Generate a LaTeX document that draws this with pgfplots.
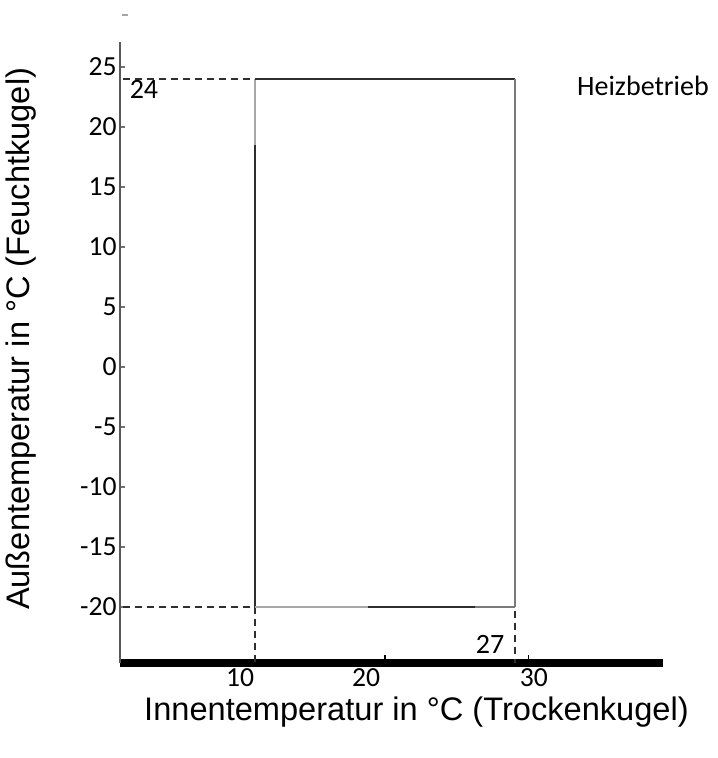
\documentclass[border=0pt]{standalone}
\usepackage{fontspec}
\setmainfont{Liberation Sans}
\newfontfamily\calibri{Carlito}
\usepackage{pgfplots}
\pgfplotsset{compat=1.18}
\definecolor{edge}{HTML}{2E2E2E}
\definecolor{edgegray}{HTML}{7A7A7A}
\definecolor{edgelight}{HTML}{A8A8A8}
\begin{document}
\begin{tikzpicture}
\useasboundingbox (-60pt,-47.5pt) rectangle (298.5pt,331.5pt);
\begin{axis}[
  at={(0,0)}, anchor=south west,
  scale only axis, width=271.5pt, height=310.5pt,
  xmin=1.173, xmax=36.68, ymin=-24.667, ymax=27.083,
  clip=false,
  axis x line=bottom, axis y line=left,
  x axis line style={-, line width=3.5pt, black},
  y axis line style={-, line width=1pt, black!65},
  tick align=inside,
  major tick length=2.5pt,
  ytick={-20,-15,-10,-5,0,5,10,15,20,25},
  yticklabels={-20,-15,-10,-5,0,5,10,15,20,25},
  ytick style={draw=black!55, line width=0.7pt},
  yticklabel style={font=\calibri\fontsize{13.8}{15}\selectfont, inner sep=0pt, anchor=east, xshift=-1.5pt},
  xtick={9.03,17.26,28.24},
  xticklabels={10,20,30},
  xtick style={draw=none},
  xticklabel style={font=\calibri\fontsize{13.8}{15}\selectfont, inner sep=0pt, anchor=north, yshift=-2.75pt},
  extra x ticks={18.5,27.9},
  extra x tick style={xtick style={draw=black, line width=0.7pt}, major tick length=4pt, xticklabel={}},
  xlabel={Innentemperatur in °C (Trockenkugel)},
  xlabel style={at={(axis description cs:0.546,-0.0790)}, anchor=center, font=\fontsize{16.3}{19}\selectfont},
  ylabel={Außentemperatur in °C (Feuchtkugel)},
  ylabel style={at={(axis description cs:-0.182,0.522)}, anchor=center, font=\fontsize{16.3}{19}\selectfont},
]
% dashed guide lines
\addplot[edge, line width=0.7pt, dash pattern=on 3.5pt off 2.5pt] coordinates {(1.37,24) (10,24)};
\addplot[edge, line width=0.7pt, dash pattern=on 3.5pt off 2.5pt] coordinates {(1.37,-20) (10,-20)};
\addplot[edge, line width=0.7pt, dash pattern=on 3.5pt off 2.5pt] coordinates {(10,-20) (10,-24.667)};
\addplot[edge, line width=0.7pt, dash pattern=on 3.5pt off 2.5pt] coordinates {(27,-20.3) (27,-24.667)};
% operating range rectangle
\addplot[edgelight, line width=0.75pt] coordinates {(10,24) (10,18.5)};
\addplot[edge, line width=0.75pt] coordinates {(10,18.5) (10,-20)};
\addplot[edge, line width=0.75pt] coordinates {(10,24) (27,24)};
\addplot[edgegray, line width=0.75pt] coordinates {(27,24) (27,-20)};
\addplot[edgelight, line width=0.75pt] coordinates {(10,-20) (17.4,-20)};
\addplot[edge, line width=0.75pt] coordinates {(17.4,-20) (24.4,-20)};
\addplot[edgegray, line width=0.75pt] coordinates {(24.4,-20) (27,-20)};
% stray mark at top of axis
\addplot[black!35, line width=1pt] coordinates {(1.3,29.3) (1.7,29.3)};
% annotations
\node[font=\calibri\fontsize{14}{16}\selectfont, inner sep=0pt] at (axis cs:2.74,23.125) {24};
\node[font=\calibri\fontsize{14}{16}\selectfont, inner sep=0pt] at (axis cs:25.37,-23.08) {27};
\node[font=\calibri\fontsize{14}{16}\selectfont, inner sep=0pt] at (axis cs:35.37,23.46) {Heizbetrieb};
\end{axis}
\end{tikzpicture}
\end{document}
